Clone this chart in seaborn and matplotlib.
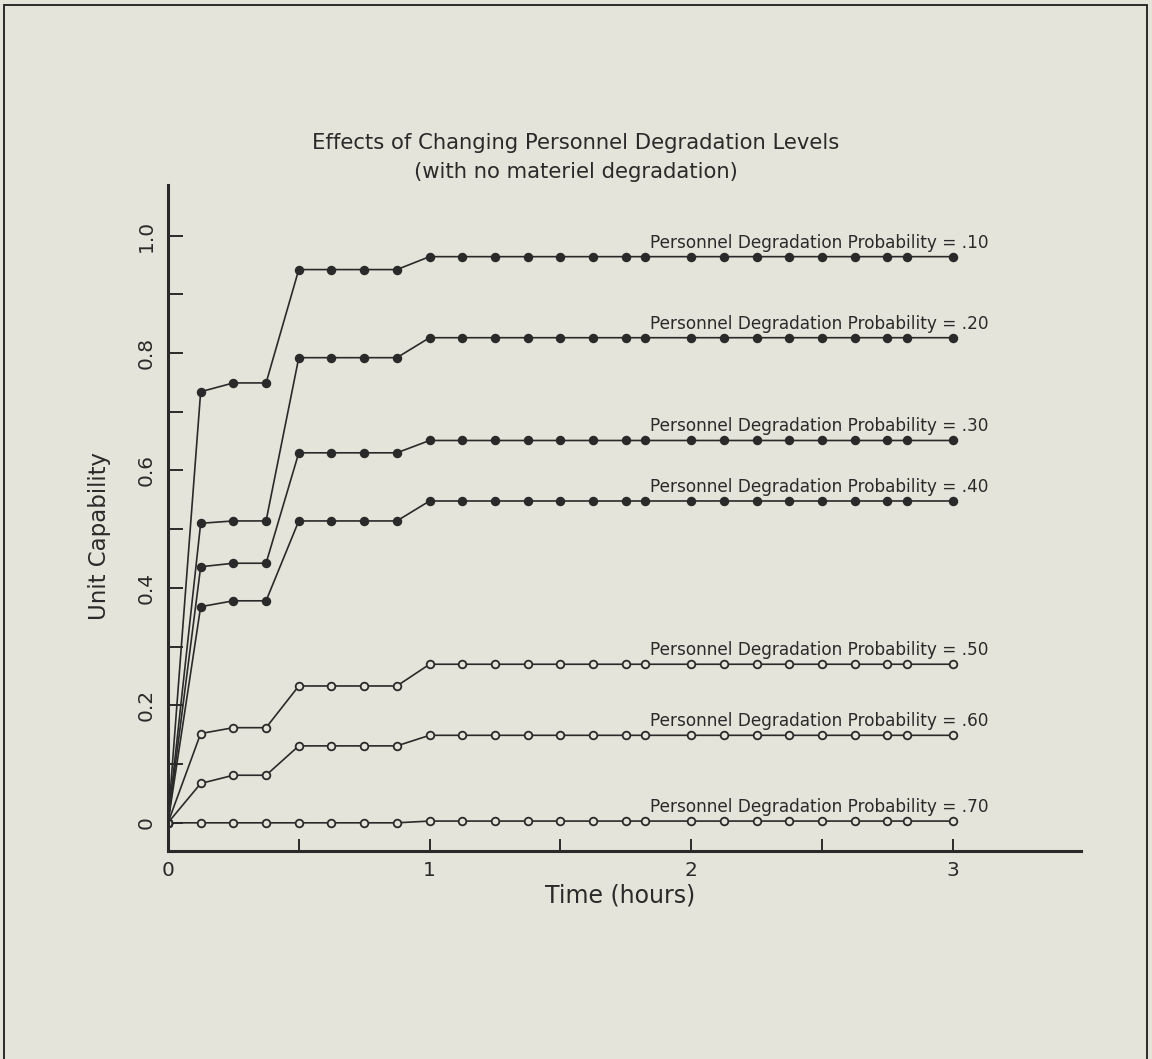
import numpy as np
import pandas as pd
import matplotlib
matplotlib.use("Agg")
import matplotlib.pyplot as plt
import seaborn as sns
from matplotlib.ticker import FixedLocator, MultipleLocator
from matplotlib.lines import Line2D

# ---------------- data ----------------
times = [0, 0.125, 0.25, 0.375, 0.5, 0.625, 0.75, 0.875,
         1.0, 1.125, 1.25, 1.375, 1.5, 1.625, 1.75, 1.825,
         2.0, 2.125, 2.25, 2.375, 2.5, 2.625, 2.75, 2.825, 3.0]

labels = ["Personnel Degradation Probability = .10",
          "Personnel Degradation Probability = .20",
          "Personnel Degradation Probability = .30",
          "Personnel Degradation Probability = .40",
          "Personnel Degradation Probability = .50",
          "Personnel Degradation Probability = .60",
          "Personnel Degradation Probability = .70"]

p10 = [0, 0.734, 0.749, 0.749, 0.942, 0.942, 0.942, 0.942] + [0.964] * 17
p20 = [0, 0.510, 0.514, 0.514, 0.792, 0.792, 0.792, 0.792] + [0.826] * 17
p30 = [0, 0.436, 0.442, 0.442, 0.630, 0.630, 0.630, 0.630] + [0.651] * 17
p40 = [0, 0.368, 0.378, 0.378, 0.514, 0.514, 0.514, 0.514] + [0.548] * 17
p50 = [0, 0.152, 0.162, 0.162, 0.233, 0.233, 0.233, 0.233] + [0.270] * 17
p60 = [0, 0.067, 0.081, 0.081, 0.131, 0.131, 0.131, 0.131] + [0.149] * 17
p70 = [0, 0.000, 0.000, 0.000, 0.000, 0.000, 0.000, 0.000] + [0.003] * 17

series = [p10, p20, p30, p40, p50, p60, p70]

title1 = "Effects of Changing Personnel Degradation Levels"
title2 = "(with no materiel degradation)"
xlabel = "Time (hours)"
ylabel = "Unit Capability"
xtick_vals = [0, 1, 2, 3]
xtick_labels = ["0", "1", "2", "3"]
ytick_vals = [0, 0.2, 0.4, 0.6, 0.8, 1.0]
ytick_labels = ["0", "0.2", "0.4", "0.6", "0.8", "1.0"]

# ---------------- style ----------------
sns.set_theme(style="white")
plt.rcParams["font.family"] = ["DejaVu Sans"]

bg = "#e4e4da"
ink = "#2a2a2a"
faces = [ink, ink, ink, ink, bg, bg, bg]

fig = plt.figure(figsize=(11.52, 10.59), dpi=100, facecolor=bg)
ax = fig.add_axes([0.1458, 0.1964, 0.7926, 0.6289])
ax.set_facecolor(bg)

df = pd.DataFrame({"time": np.tile(times, len(series)),
                   "cap": np.concatenate(series),
                   "series": np.repeat(labels, len(times))})

for lab, face in zip(labels, faces):
    sub = df[df["series"] == lab]
    sns.lineplot(data=sub, x="time", y="cap", ax=ax, color=ink, linewidth=1.2,
                 marker="o", markersize=5.5, markerfacecolor=face,
                 markeredgecolor=ink, markeredgewidth=1.3,
                 estimator=None, sort=False, legend=False)
    ax.annotate(lab, xy=(2.49, sub["cap"].iloc[-1]), xytext=(0, 6.5),
                textcoords="offset points", ha="center", va="baseline",
                fontsize=12.2, color=ink)

ax.set_xlim(0, 3.49)
ax.set_ylim(-0.048, 1.086)

for s in ["top", "right"]:
    ax.spines[s].set_visible(False)
for s in ["left", "bottom"]:
    ax.spines[s].set_color(ink)
    ax.spines[s].set_linewidth(2.2)

ax.xaxis.set_major_locator(FixedLocator(xtick_vals))
ax.xaxis.set_minor_locator(MultipleLocator(0.5))
ax.set_xticklabels(xtick_labels)
ax.yaxis.set_major_locator(FixedLocator(ytick_vals))
ax.yaxis.set_minor_locator(MultipleLocator(0.1))
ax.set_yticklabels(ytick_labels, rotation=90, va="center")

ax.tick_params(axis="x", which="both", direction="in", length=9, width=1.4,
               colors=ink, labelsize=14.5, pad=7, bottom=True)
ax.tick_params(axis="y", which="both", direction="in", length=11, width=1.4,
               colors=ink, labelsize=14.5, pad=9, left=True)

ax.set_xlabel(xlabel, fontsize=17, color=ink)
ax.xaxis.set_label_coords(0.495, -0.049)
ax.set_ylabel(ylabel, fontsize=16.5, color=ink)
ax.yaxis.set_label_coords(-0.062, 0.473)

fig.text(0.5, 1 - 143 / 1059, title1, ha="center", va="center",
         fontsize=15.2, color=ink)
fig.text(0.5, 1 - 172 / 1059, title2, ha="center", va="center",
         fontsize=15.2, color=ink)

# page frame (left, top, right)
xl, xr, yt = 4 / 1152, 1147 / 1152, 1 - 5 / 1059
fig.add_artist(Line2D([xl, xl], [0, yt], transform=fig.transFigure, color=ink, lw=1.4))
fig.add_artist(Line2D([xl, xr], [yt, yt], transform=fig.transFigure, color=ink, lw=1.4))
fig.add_artist(Line2D([xr, xr], [0, yt], transform=fig.transFigure, color=ink, lw=1.4))

fig.savefig("out.png", dpi=100, facecolor=bg)
